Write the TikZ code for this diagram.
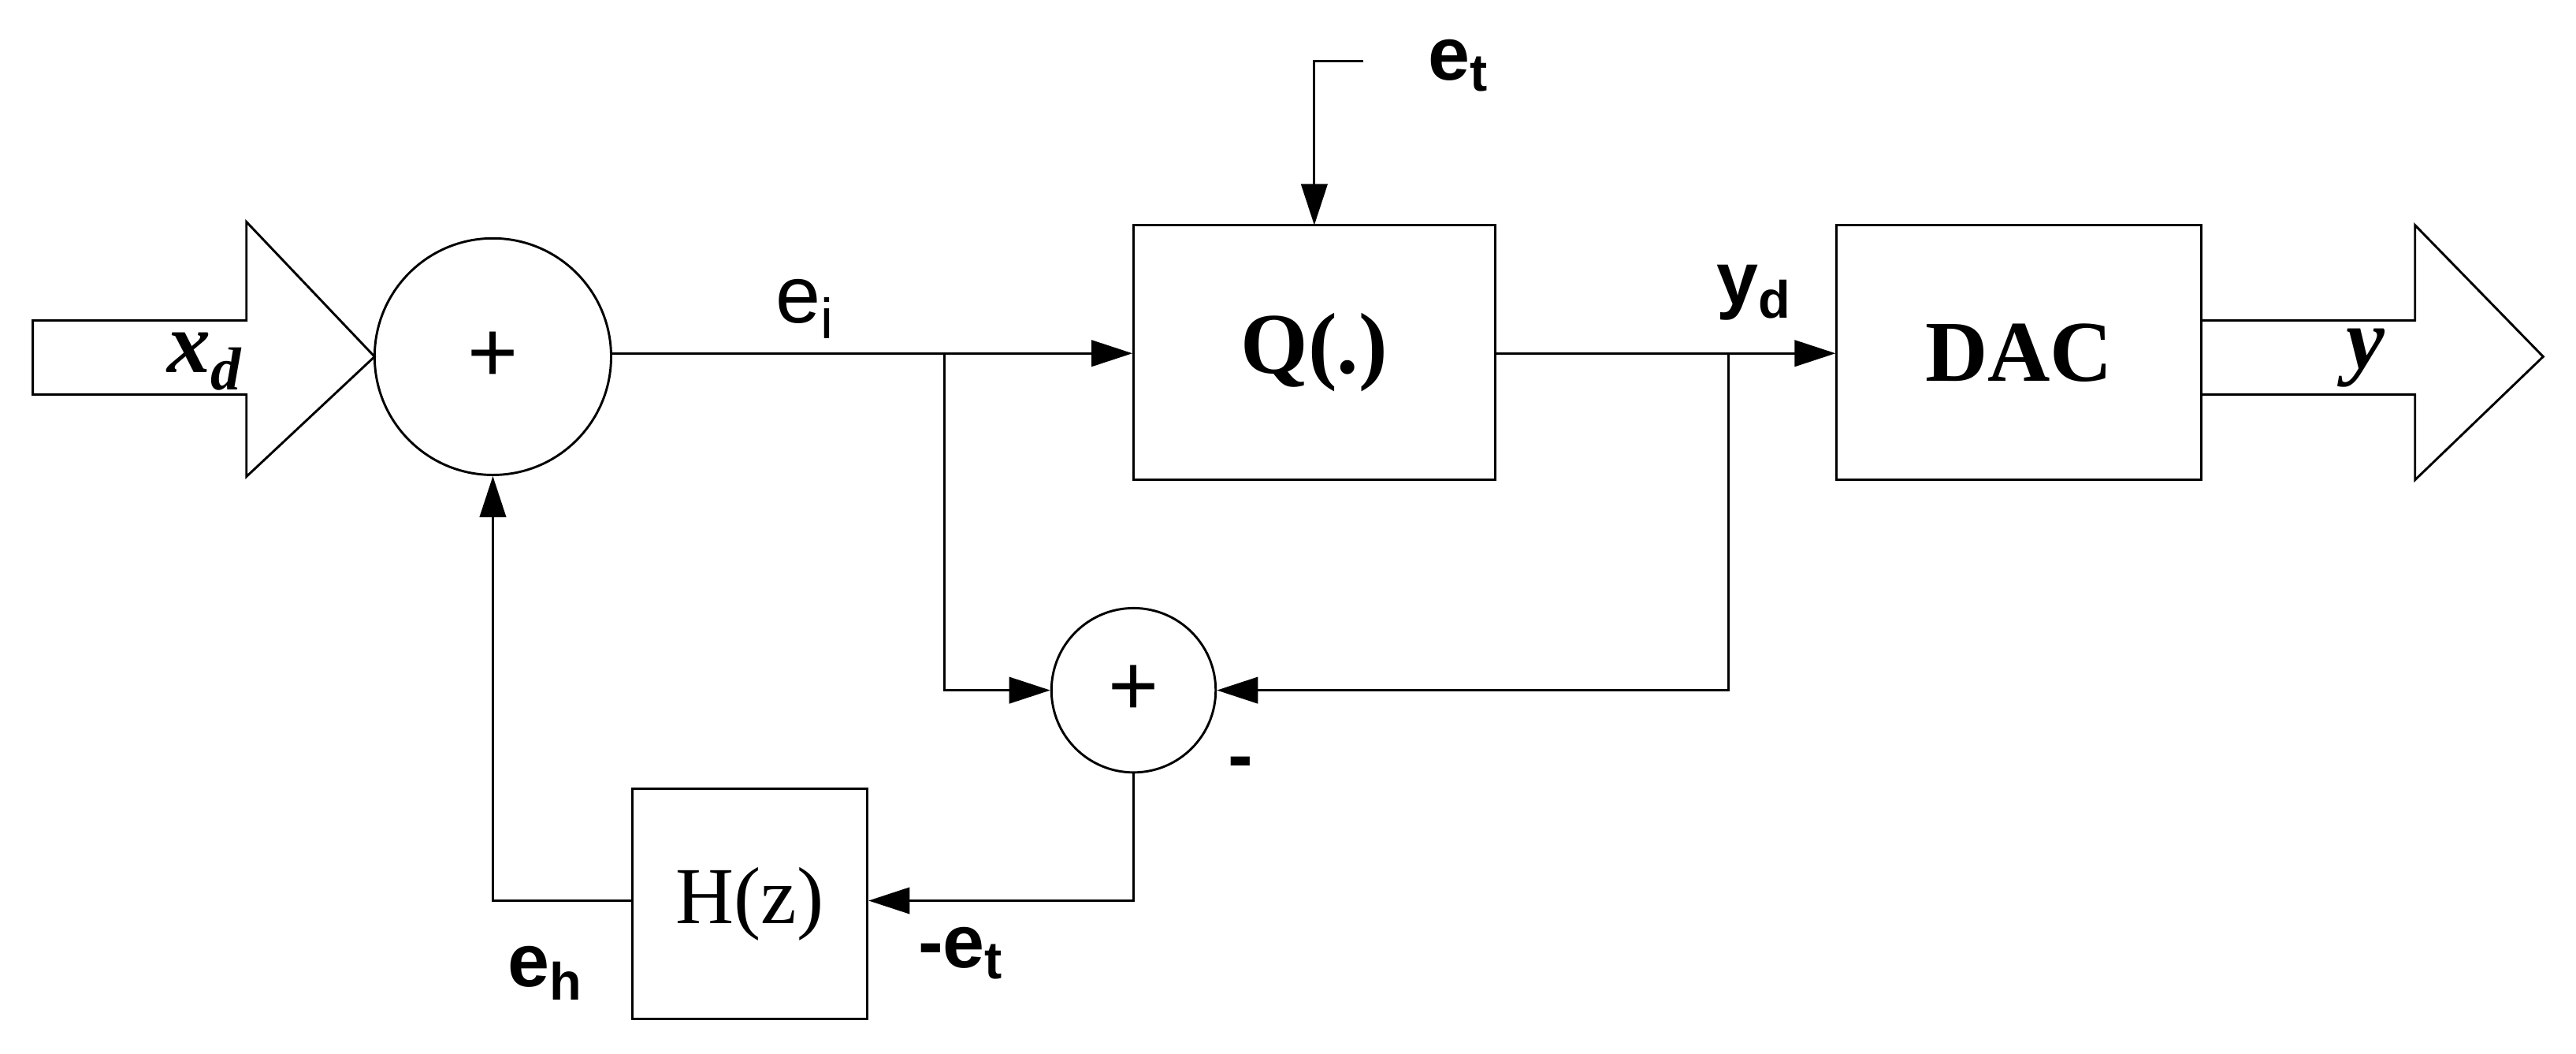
\documentclass[tikz,border=0pt]{standalone}
\usepackage{fontspec}
\setmainfont{Liberation Serif}
\newfontfamily\ars{Liberation Sans}
\usetikzlibrary{arrows.meta}
\begin{document}
\begin{tikzpicture}[x=0.02cm,y=-0.02cm,
  every path/.style={line width=0.8pt},
  arr/.style={-{Triangle[length=0.5cm,width=0.32cm]}},
  blk/.style={draw,rectangle,inner sep=0},
  sumc/.style={draw,circle,inner sep=0},
  sl/.style={font=\ars\fontsize{26}{30}\selectfont\bfseries},
  lbl/.style={font=\fontsize{30}{34}\selectfont\bfseries\itshape}]
\useasboundingbox (0,0) rectangle (1568,641);
\draw (20,195) -- (150,195) -- (150,135) -- (228,217) -- (150,290) -- (150,240) -- (20,240) -- cycle;
\draw (1340,195) -- (1470,195) -- (1470,137) -- (1548,217) -- (1470,292) -- (1470,240) -- (1340,240);
\node[lbl] (xd) at (125,220) {x\textsubscript{d}};
\node[lbl] (y) at (1440,218) {y};
\node[sumc,minimum size=2.88cm,font=\ars\fontsize{30}{34}\selectfont] (s1) at (300,217) {+};
\node[sumc,minimum size=2cm,font=\ars\fontsize{30}{34}\selectfont] (s2) at (690,420) {+};
\node[blk,minimum width=4.4cm,minimum height=3.1cm,font=\fontsize{30}{34}\selectfont\bfseries] (Q) at (800,214.5) {Q(.)};
\node[blk,minimum width=4.44cm,minimum height=3.1cm,font=\fontsize{30}{34}\selectfont\bfseries] (D) at (1229,214.5) {DAC};
\node[blk,minimum width=2.86cm,minimum height=2.8cm,font=\fontsize{28}{32}\selectfont] (H) at (456.5,550) {H(z)};
\coordinate (b1) at (575,215);
\coordinate (b2) at (1052,215);
\coordinate (et0) at (830,37);
\draw[arr] (s1.east |- 0,215) -- (Q.west |- 0,215);
\draw[arr] (Q.east |- 0,215) -- (D.west |- 0,215);
\draw[arr] (et0) -- (800,37) -- (800,137);
\draw[arr] (b1) -- (575,420) -- (s2.west);
\draw[arr] (b2) -- (1052,420) -- (s2.east);
\draw[arr] (s2.south) -- (690,548) -- (H.east |- 0,548);
\draw[arr] (H.west |- 0,548) -- (300,548) -- (s1.south);
\node[font=\ars\fontsize{28}{32}\selectfont] (ei) at (490,188) {e\textsubscript{i}};
\node[sl] (et) at (888,40) {e\textsubscript{t}};
\node[sl] (yd) at (1068,178) {y\textsubscript{d}};
\node[sl] (m) at (755,468) {-};
\node[sl] (eh) at (332,592) {e\textsubscript{h}};
\node[sl] (met) at (585,580) {-e\textsubscript{t}};
\end{tikzpicture}
\end{document}
